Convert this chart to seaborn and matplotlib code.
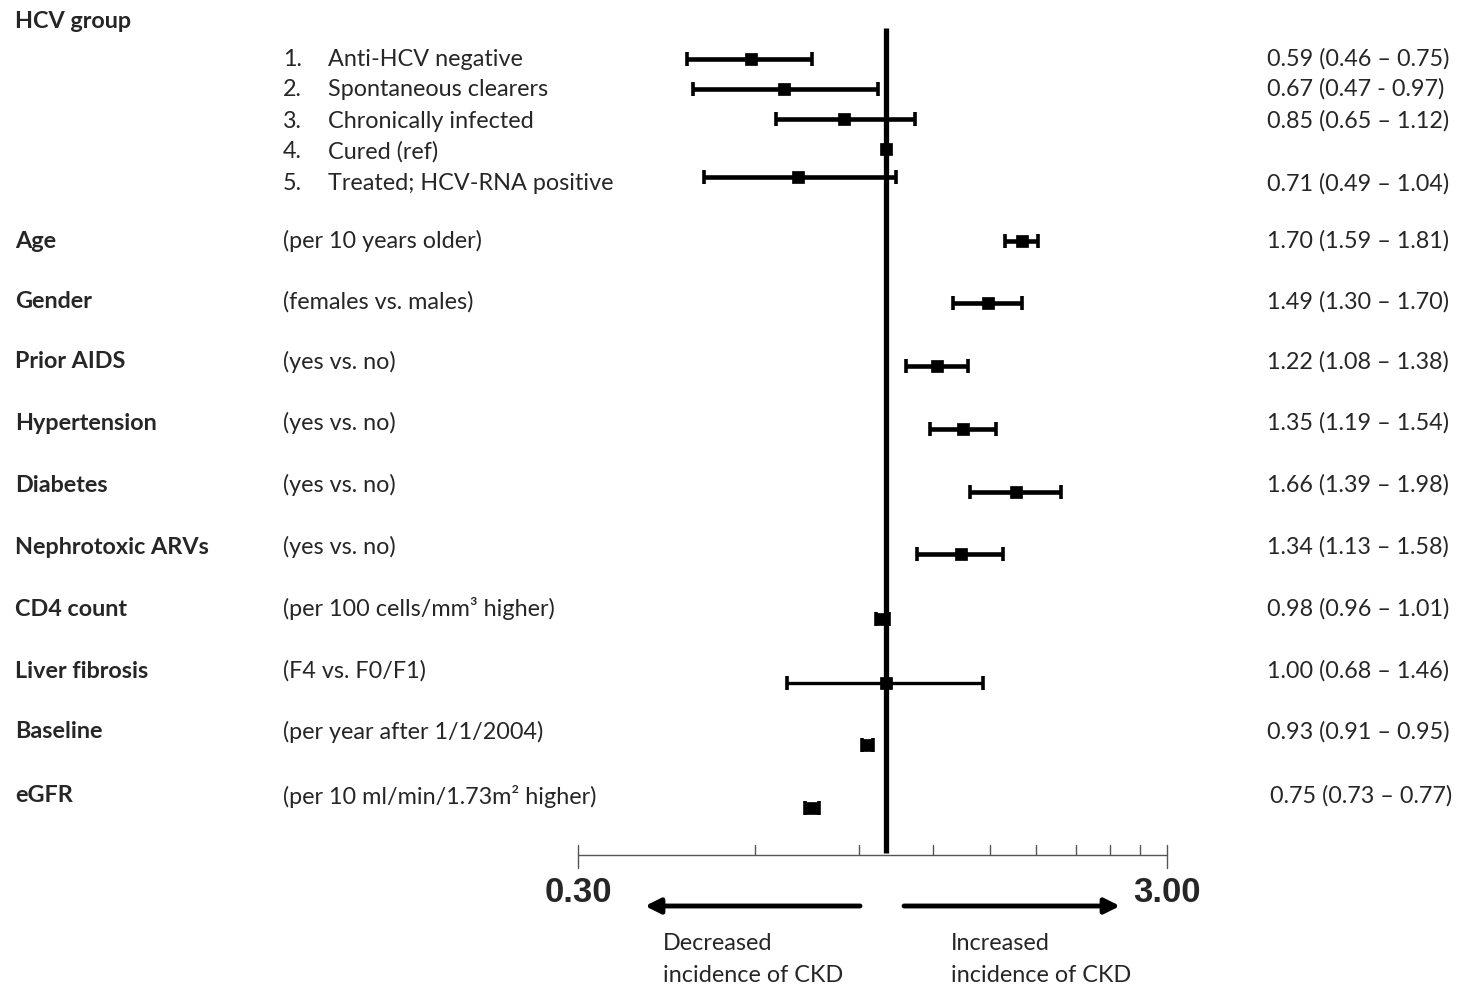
import seaborn as sns
import matplotlib.pyplot as plt
import matplotlib.transforms as mtransforms
import numpy as np
import pandas as pd

# --- data ---
hcv_labels = ["Anti-HCV negative", "Spontaneous clearers", "Chronically infected",
              "Cured (ref)", "Treated; HCV-RNA positive"]
hcv_hr = [0.59, 0.67, 0.85, 1.00, 0.71]
hcv_lo = [0.46, 0.47, 0.65, np.nan, 0.49]
hcv_hi = [0.75, 0.97, 1.12, np.nan, 1.04]
hcv_dash = ["\u2013", "-", "\u2013", "", "\u2013"]

cov_names = ["Age", "Gender", "Prior AIDS", "Hypertension", "Diabetes",
             "Nephrotoxic ARVs", "CD4 count", "Liver fibrosis", "Baseline", "eGFR"]
cov_desc = ["(per 10 years older)", "(females vs. males)", "(yes vs. no)", "(yes vs. no)",
            "(yes vs. no)", "(yes vs. no)", "(per 100 cells/mm\u00b3 higher)",
            "(F4 vs. F0/F1)", "(per year after 1/1/2004)",
            "(per 10 ml/min/1.73m\u00b2 higher)"]
cov_hr = [1.70, 1.49, 1.22, 1.35, 1.66, 1.34, 0.98, 1.00, 0.93, 0.75]
cov_lo = [1.59, 1.30, 1.08, 1.19, 1.39, 1.13, 0.96, 0.68, 0.91, 0.73]
cov_hi = [1.81, 1.70, 1.38, 1.54, 1.98, 1.58, 1.01, 1.46, 0.95, 0.77]

x_ticks = [0.3, 0.6, 0.9, 1.2, 1.5, 1.8, 2.1, 2.4, 2.7, 3.0]

# --- layout (pixel rows, top = 0) ---
W, H = 1459, 985
hcv_text_y = [59, 89, 121, 152, 184]
hcv_mark_y = [59, 89, 119, 149, 177]
cov_text_y = [241, 302, 362, 423, 485, 547, 609, 671, 732, 796]
cov_mark_y = [241, 303, 366, 429, 492, 554, 619, 683, 745, 808]

df = pd.DataFrame({
    "name": hcv_labels + cov_names,
    "hr": hcv_hr + cov_hr,
    "lo": hcv_lo + cov_lo,
    "hi": hcv_hi + cov_hi,
    "y": hcv_mark_y + cov_mark_y,
})

sns.set_style("white")
plt.rcParams["font.family"] = ["Lato", "DejaVu Sans"]
TXT = 16.8

fig = plt.figure(figsize=(W / 100, H / 100), dpi=100)
ax = fig.add_axes([578 / W, 0, (1167 - 578) / W, 1])
ax.set_xscale("log")
ax.set_xlim(0.3, 3.0)
ax.set_ylim(H, 0)
ax.axis("off")

px = mtransforms.Affine2D().scale(1 / W, -1 / H).translate(0, 1) + fig.transFigure
bx = mtransforms.blended_transform_factory(ax.transData, px)

# reference line at HR = 1
ax.plot([1, 1], [28, 853], color="black", lw=3.8, solid_capstyle="butt", zorder=2)

# confidence intervals (liver fibrosis drawn a bit thinner, as in the original)
ci = df.dropna()
thin = ci["name"] == "Liver fibrosis"
for sub, lw in ((ci[~thin], 3.3), (ci[thin], 2.4)):
    ax.errorbar(sub["hr"], sub["y"], xerr=[sub["hr"] - sub["lo"], sub["hi"] - sub["hr"]],
                fmt="none", ecolor="black", elinewidth=lw, capsize=4.8, capthick=2.6,
                zorder=3)
sns.scatterplot(data=df, x="hr", y="y", marker="s", s=75, color="black",
                edgecolor="black", linewidth=0.5, ax=ax, zorder=4, legend=False)
ax.set_xlim(0.3, 3.0)
ax.set_ylim(H, 0)

# bottom scale
ax.plot([0.3, 3.0], [855, 855], color="#555555", lw=1.0, clip_on=False)
for t in x_ticks:
    y0, y1 = (845, 868) if t in (0.3, 3.0) else (845, 855)
    ax.plot([t, t], [y0, y1], color="#555555", lw=1.0, clip_on=False)
for t in (0.3, 3.0):
    ax.text(t, 892, f"{t:.2f}", transform=bx, ha="center", va="center", fontsize=25,
            fontweight="bold", family="Liberation Sans")

arrow = dict(arrowstyle="-|>,head_length=0.9,head_width=0.45", color="black", lw=3.5,
             shrinkA=0, shrinkB=0)
ax.annotate("", xy=(645, 906), xytext=(860, 906), xycoords=px, textcoords=px,
            arrowprops=arrow)
ax.annotate("", xy=(1120, 906), xytext=(904, 906), xycoords=px, textcoords=px,
            arrowprops=arrow)
for x0, word in ((663, "Decreased"), (951, "Increased")):
    ax.text(x0, 943, word, transform=px, ha="left", va="center", fontsize=TXT)
    ax.text(x0, 975, "incidence of CKD", transform=px, ha="left", va="center", fontsize=TXT)

# left and right text columns
ax.text(15, 22, "HCV group", transform=px, ha="left", va="center", fontsize=TXT,
        fontweight="bold")
for i, (lab, y) in enumerate(zip(hcv_labels, hcv_text_y)):
    ax.text(283, y, f"{i + 1}.", transform=px, ha="left", va="center", fontsize=TXT)
    ax.text(328, y, lab, transform=px, ha="left", va="center", fontsize=TXT)
    if hcv_dash[i]:
        ax.text(1267, y, f"{hcv_hr[i]:.2f} ({hcv_lo[i]:.2f} {hcv_dash[i]} {hcv_hi[i]:.2f})",
                transform=px, ha="left", va="center", fontsize=TXT)

for name, desc, hr, lo, hi, y in zip(cov_names, cov_desc, cov_hr, cov_lo, cov_hi, cov_text_y):
    ax.text(15, y, name, transform=px, ha="left", va="center", fontsize=TXT, fontweight="bold")
    ax.text(283, y, desc, transform=px, ha="left", va="center", fontsize=TXT)
    xr = 1270 if name == "eGFR" else 1267
    ax.text(xr, y, f"{hr:.2f} ({lo:.2f} \u2013 {hi:.2f})", transform=px, ha="left",
            va="center", fontsize=TXT)

fig.savefig("out.png", dpi=100, facecolor="white")
plt.close(fig)
